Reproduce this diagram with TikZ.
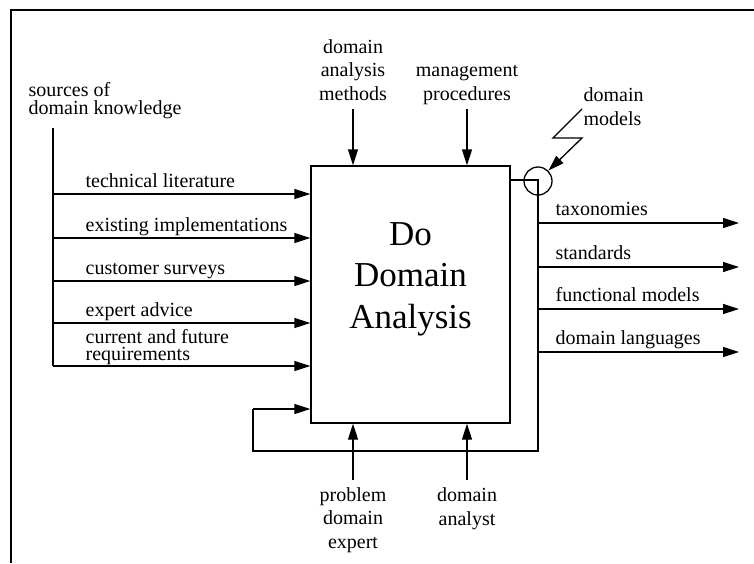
\documentclass[tikz,border=0pt]{standalone}
\usepackage{fontspec}
\setmainfont{Liberation Serif}
\usetikzlibrary{arrows.meta}
\begin{document}
\begin{tikzpicture}[x=1pt,y=-1pt,line width=1.3pt,
  arr/.style={-{Triangle[length=16pt,width=10pt]}},
  lbl/.style={inner sep=0pt,font=\fontsize{20}{23.5}\selectfont},
  big/.style={inner sep=0pt,align=center,font=\fontsize{35}{41.5}\selectfont},
  frameline/.style={line width=2.6pt}]
\useasboundingbox (0,0) rectangle (754,563);
% frame
\draw[frameline] (754,10) -- (11,10) -- (11,563);
% main box
\node[draw,minimum width=199pt,minimum height=257pt,inner sep=0pt] (box) at (410.5,294.5) {};
\node[big,anchor=base] (title) at (410.5,328) {Do\\Domain\\Analysis};
% sources
\node[lbl,align=left,anchor=base west,font=\fontsize{20}{18}\selectfont] (src) at (28,114) {sources of\\domain knowledge};
\coordinate (srctop) at (53,128);
\coordinate (srcbot) at (53,366);
\draw (srctop) -- (srcbot);
\foreach \y/\t/\n in {194/technical literature/i1,238/existing implementations/i2,281/customer surveys/i3,323/expert advice/i4}{
  \coordinate (\n s) at (53,\y);
  \draw[arr] (\n s) -- (box.west |- \n s);
  \node[lbl,anchor=base west] (\n) at (85,\y-7) {\t};
}
\draw[arr] (srcbot) -- (box.west |- srcbot);
\node[lbl,align=left,anchor=base west,font=\fontsize{20}{16.5}\selectfont] (i5) at (85,360) {current and future\\requirements};
% controls
\node[lbl,align=center,anchor=base] (c1) at (353,100) {domain\\analysis\\methods};
\node[lbl,align=center,anchor=base] (c2) at (467,100) {management\\procedures};
\coordinate (c1e) at (353,109);
\coordinate (c2e) at (467,109);
\draw[arr] (c1e) -- (box.north -| c1e);
\draw[arr] (c2e) -- (box.north -| c2e);
% mechanisms
\node[lbl,align=center,anchor=base] (m1) at (353,548) {problem\\domain\\expert};
\node[lbl,align=center,anchor=base] (m2) at (467,525) {domain\\analyst};
\coordinate (m1e) at (353,480);
\coordinate (m2e) at (467,480);
\draw[arr] (m1e) -- (box.south -| m1e);
\draw[arr] (m2e) -- (box.south -| m2e);
% feedback loop
\coordinate (fb) at (538,180);
\coordinate (loopR) at (538,451);
\coordinate (loopL) at (253,451);
\coordinate (loopU) at (253,409);
\draw (box.east |- fb) -- (fb) -- (loopR) -- (loopL) -- (loopU);
\draw[arr] (loopU) -- (box.west |- loopU);
% circle and domain models
\node[draw,circle,minimum size=28pt,inner sep=0pt] (circ) at (538,181) {};
\node[lbl,align=left,anchor=base west] (dm) at (583,125) {domain\\models};
\coordinate (b1) at (582,109);
\coordinate (b2) at (553,138);
\coordinate (b3) at (582,138);
\draw[arr] (b1) -- (b2) -- (b3) -- (circ.north east);
% outputs
\foreach \y/\t/\n in {223/taxonomies/o1,267/standards/o2,309/functional models/o3,352/domain languages/o4}{
  \coordinate (\n s) at (538,\y);
  \coordinate (\n e) at (739,\y);
  \draw[arr] (\n s) -- (\n e);
  \node[lbl,anchor=base west] (\n) at (555,\y-8) {\t};
}
\end{tikzpicture}
\end{document}
